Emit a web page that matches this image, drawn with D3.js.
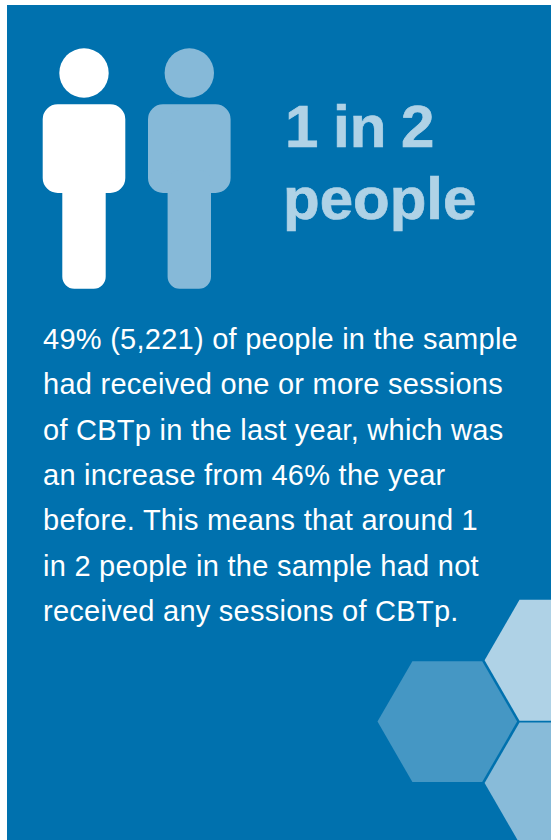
<!DOCTYPE html>
<html>
<head>
<meta charset="utf-8">
<script src="https://cdnjs.cloudflare.com/ajax/libs/d3/7.8.5/d3.min.js"></script>
<style>
html,body{margin:0;padding:0;background:#fff;}
svg{display:block;}
text{font-family:"Liberation Sans",Arial,sans-serif;}
</style>
</head>
<body>
<div id="chart"></div>
<script>
// data
var people = ["received", "not received"];
var headlineLines = ["1 in 2", "people"];
var bodyLines = [
	"49% (5,221) of people in the sample",
	"had received one or more sessions",
	"of CBTp in the last year, which was",
	"an increase from 46% the year",
	"before. This means that around 1",
	"in 2 people in the sample had not",
	"received any sessions of CBTp."
];
var hexColumns = [0, 1, 1];
var hexRows = [0, -0.5, 0.5];

var width = 551;
var height = 840;

var svg = d3.select("#chart").append("svg")
	.attr("width", width)
	.attr("height", height);

svg.append("rect")
	.attr("x", 7)
	.attr("y", 5)
	.attr("width", width - 7)
	.attr("height", height - 5)
	.attr("fill", "#0071ae");

// people
var personColor = d3.scaleOrdinal().domain(people).range(["#ffffff", "#86b9d8"]);
var personX = d3.scalePoint().domain(people).range([84, 189.3]);

var rounded = function (x0, y0, x1, y1, r) {
	var p = d3.path();
	p.moveTo(x0 + r, y0);
	p.arcTo(x1, y0, x1, y1, r);
	p.arcTo(x1, y1, x0, y1, r);
	p.arcTo(x0, y1, x0, y0, r);
	p.arcTo(x0, y0, x1, y0, r);
	p.closePath();
	return p.toString();
};

var person = svg.selectAll("g.person").data(people)
	.enter().append("g")
	.attr("class", "person")
	.attr("fill", d => personColor(d))
	.attr("transform", d => "translate(" + personX(d) + ",0)");

person.append("circle").attr("cy", 73).attr("r", 24.7);
person.append("path").attr("d", rounded(-41.3, 104.3, 41.3, 193, 15));
person.append("path").attr("d", rounded(-21.7, 170, 21.7, 288.7, 12));

// headline
svg.selectAll("text.headline").data(headlineLines)
	.enter().append("text")
	.attr("class", "headline")
	.attr("x", (d, i) => 285 - i * 2)
	.attr("y", (d, i) => 147 + i * 72)
	.attr("font-size", 60)
	.attr("font-weight", "bold")
	.attr("word-spacing", -2)
	.attr("fill", "#afd2e6")
	.attr("stroke", "#afd2e6")
	.attr("stroke-width", 0.7)
	.text(d => d);

// body text
var lineY = d3.scaleLinear().domain([0, bodyLines.length - 1]).range([349, 621]);

svg.selectAll("text.body").data(bodyLines)
	.enter().append("text")
	.attr("class", "body")
	.attr("x", 43)
	.attr("y", (d, i) => lineY(i))
	.attr("font-size", 29)
	.attr("letter-spacing", 0.26)
	.attr("fill", "#ffffff")
	.text(d => d);

// hexagons
var hexR = 69.8;
var hexColor = ["#4597c4", "#afd2e6", "#88bbd9"];
var hexPath = d3.line()(d3.range(6).map(i => [
	hexR * Math.cos(i * Math.PI / 3),
	hexR * Math.sin(i * Math.PI / 3)
])) + "Z";
var hexX = d3.scaleLinear().domain([0, 1]).range([447.3, 554.4]);
var hexY = d3.scaleLinear().domain([0, 1]).range([721.6, 844.3]);

svg.selectAll("path.hex").data(hexColumns)
	.enter().append("path")
	.attr("class", "hex")
	.attr("d", hexPath)
	.attr("fill", (d, i) => hexColor[i])
	.attr("transform", (d, i) => "translate(" + hexX(d) + "," + hexY(hexRows[i]) + ")");
</script>
</body>
</html>
